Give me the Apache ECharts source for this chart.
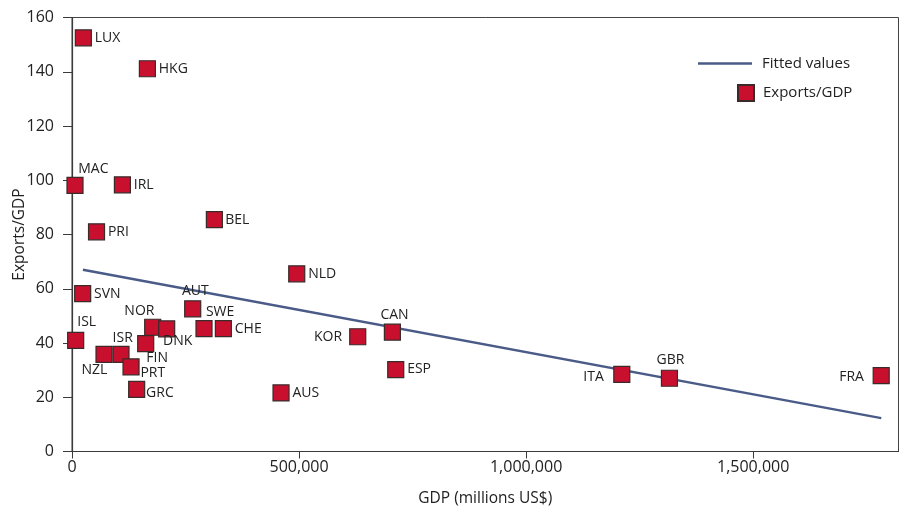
<!DOCTYPE html>
<html>
<head>
<meta charset="utf-8">
<script src="https://cdn.jsdelivr.net/npm/echarts@6/dist/echarts.min.js"></script>
<style>html,body{margin:0;padding:0;background:#fff}#c{width:899px;height:512px}</style>
</head>
<body>
<div id="c"></div>
<script>
// ---- data ----
var countries = ['LUX','HKG','MAC','IRL','PRI','BEL','SVN','ISL','NOR','DNK','FIN','NZL','ISR','PRT','GRC','AUT','SWE','CHE','AUS','NLD','KOR','CAN','ESP','ITA','GBR','FRA'];
var gdp = [25000,166000,6600,111000,54000,313500,23500,8100,177700,208500,162300,70500,107900,130000,142400,265800,290700,333300,460300,494900,629200,705500,712900,1210700,1315600,1781900];
var exportsGdp = [152.5,141.1,98.1,98.3,81.0,85.5,58.2,41.0,45.8,45.2,39.8,35.8,35.8,31.2,22.9,52.6,45.3,45.3,21.6,65.5,42.3,44.0,30.2,28.4,27.0,28.0];
var fitX = [24000, 1782000];
var fitY = [67.0, 12.3];
var xTicks = [0, 500000, 1000000, 1500000];

// ---- label placement (style, not data): [align, dx, dy] of label anchor from marker centre ----
var labelPlace = {
  MAC:['center',19,-16], ISL:['center',11.6,-18], NOR:['center',-12.7,-15.4], DNK:['center',11.6,13],
  FIN:['center',12,15], NZL:['center',-9,16.7], ISR:['center',2.3,-15.7], PRT:['left',10,7],
  GRC:['left',10,4], AUT:['center',3.3,-17.6], SWE:['center',16.7,-15.7], KOR:['right',-15,1],
  CAN:['center',2.7,-16.7], ITA:['right',-17.4,3.3], GBR:['center',1.7,-17.7], FRA:['right',-16.7,2.3],
  BEL:['left',11.5,1.5]
};
var SYM = 16;

var scatterData = countries.map(function(c, i){
  var p = labelPlace[c] || ['left',12,0.5];
  return { name: c, value: [gdp[i], exportsGdp[i]],
    label: { position: [SYM/2 + p[1], SYM/2 + p[2]], align: p[0], verticalAlign: 'middle' } };
});
var fitData = fitX.map(function(x, i){ return [x, fitY[i]]; });

var FONT = 'Open Sans';
var chart = echarts.init(document.getElementById('c'), null, {renderer:'canvas'});
chart.setOption({
  animation: false,
  textStyle: { fontFamily: FONT },
  grid: { left: 72, right: 0.5, top: 17.5, bottom: 60.5, show: true, borderColor: '#444', borderWidth: 1,
    backgroundColor: 'transparent', outerBoundsMode: 'none', containLabel: false },
  legend: [
    { data: [{ name: 'Fitted values', icon: 'rect' }], left: 698, top: 56, padding: 0, itemWidth: 54, itemHeight: 2.5, orient: 'vertical',
      textStyle: { fontFamily: FONT, fontSize: 15, color: '#222', padding: [0,0,0,5] } },
    { data: ['Exports/GDP'], left: 737, top: 84, padding: 0, itemWidth: 16, itemHeight: 16, orient: 'vertical',
      textStyle: { fontFamily: FONT, fontSize: 15, color: '#222', padding: [0,0,0,4] } }
  ],
  xAxis: {
    type: 'value', min: 0, max: 1820000, interval: 500000,
    name: 'GDP (millions US$)', nameLocation: 'middle', nameGap: 39, nameMoveOverlap: false,
    nameTextStyle: { fontFamily: FONT, fontSize: 15.5, color: '#222' },
    axisLine: { show: true, lineStyle: { color: '#3a3a3a', width: 1.2 } },
    axisTick: { show: true, length: 7, lineStyle: { color: '#3a3a3a' }, customValues: xTicks },
    axisLabel: { margin: 8, fontFamily: FONT, fontSize: 16, color: '#222', customValues: xTicks,
      formatter: function(v){ return v.toLocaleString('en-US'); } },
    splitLine: { show: false }
  },
  yAxis: {
    type: 'value', min: 0, max: 160, interval: 20,
    name: 'Exports/GDP', nameLocation: 'middle', nameGap: 44, nameMoveOverlap: false,
    nameTextStyle: { fontFamily: FONT, fontSize: 15.5, color: '#222' },
    axisLine: { show: true, lineStyle: { color: '#3a3a3a', width: 1.2 } },
    axisTick: { show: true, length: 9, lineStyle: { color: '#3a3a3a' } },
    axisLabel: { margin: 18, fontFamily: FONT, fontSize: 16, color: '#222' },
    splitLine: { show: false }
  },
  series: [
    { name: 'Fitted values', type: 'line', data: fitData, symbol: 'none', z: 2,
      lineStyle: { color: '#4a5b88', width: 2.5 }, itemStyle: { color: '#4a5b88' } },
    { name: 'Exports/GDP', type: 'scatter', data: scatterData, symbol: 'rect', symbolSize: SYM, z: 3,
      itemStyle: { color: '#c8102e', borderColor: '#3a2a2a', borderWidth: 1.2, opacity: 1 },
      label: { show: true, formatter: '{b}', fontFamily: FONT, fontSize: 14, color: '#222' },
      labelLayout: { hideOverlap: false } }
  ]
});
</script>
</body>
</html>
